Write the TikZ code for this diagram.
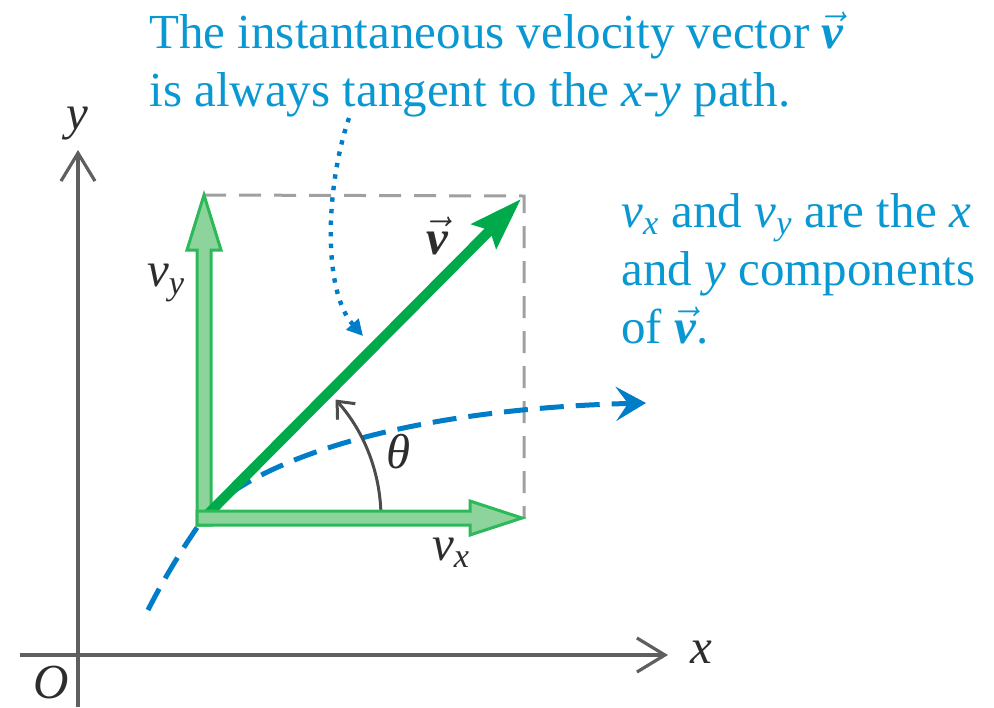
\documentclass[tikz,border=0pt]{standalone}
\usepackage{amsmath}
\usepackage{fontspec}
\setmainfont{Liberation Serif}
\usetikzlibrary{arrows.meta,calc}
\definecolor{txtblue}{RGB}{10,152,210}
\definecolor{pathblue}{RGB}{0,125,200}
\definecolor{vgreen}{RGB}{0,170,75}
\definecolor{compedge}{RGB}{45,185,90}
\definecolor{compfill}{RGB}{140,212,155}
\definecolor{axisgray}{RGB}{95,95,95}
\definecolor{dashgray}{RGB}{160,160,160}
\definecolor{labelgray}{RGB}{45,45,45}
\newcommand{\vv}{\ensuremath{\vec{\text{\bfseries\itshape v}}}}
\newcommand{\iv}[1]{\text{\itshape #1}}
\tikzset{
  bigfont/.style={font=\fontsize{24.5}{29}\selectfont},
  txt/.style={bigfont, text=txtblue, inner sep=0pt, align=left},
  lab/.style={bigfont, text=labelgray, inner sep=0pt},
  axis/.style={draw=axisgray, line width=2pt, -{Straight Barb[length=14pt,width=17pt,line width=1.6pt]}},
  rectdash/.style={draw=dashgray, line width=1.5pt, dash pattern=on 11pt off 6.5pt},
  bluepath/.style={draw=pathblue, line width=2.5pt, dash pattern=on 12pt off 6pt, -{Stealth[length=15pt,width=17pt,inset=6pt]}},
  dotpath/.style={draw=pathblue, line width=2.2pt, dash pattern=on 2.2pt off 3.6pt, -{Triangle[length=8pt,width=8pt]}},
  vvec/.style={draw=vgreen, line width=5pt, -{Stealth[length=26pt,width=17pt,inset=4pt]}},
  comp/.style={draw=compedge, fill=compfill, line width=1.5pt, line join=miter},
  thetaarc/.style={draw=labelgray!85, line width=1.5pt, -{Straight Barb[length=7pt,width=12pt]}}
}
\begin{document}
\begin{tikzpicture}[x=0.5pt, y=-0.5pt]
\useasboundingbox (0,0) rectangle (994,707);
% named points
\coordinate (O) at (204,518);
\coordinate (VY) at (204,195);
\coordinate (VX) at (522,518);
\coordinate (V) at (521,199);
\coordinate (C) at (524,196);
\coordinate (yb) at (78,707);
\coordinate (yt) at (78,150);
\coordinate (xl) at (20,655);
\coordinate (xr) at (668,655);
\coordinate (bstart) at (148,610);
\coordinate (btip) at (646,403);
\coordinate (dstart) at (349,118);
\coordinate (dtip) at (363,336);
% axes
\draw[axis] (yb) -- (yt);
\draw[axis] (xl) -- (xr);
\node[lab] (ylab) at (77,124) {\iv{y}};
\node[lab] (xlab) at (701,652) {\iv{x}};
\node[lab] (olab) at (51,683) {\iv{O}};
% dashed rectangle
\draw[rectdash] (VY) -- (C) -- (C|-VX);
% path
\draw[bluepath] (bstart) .. controls (162,582) and (186,542) .. (O) .. controls (240,470) and (380,410) .. (btip);
% theta arc
\draw[thetaarc] ($(O)+(177,0)$) arc[start angle=0, end angle=-42, radius=177];
% vy component
\draw[comp] ($(O)+(-7,7)$) -- ($(VY)+(-7,55)$) -- ($(VY)+(-17,55)$) -- (VY) -- ($(VY)+(17,55)$) -- ($(VY)+(7,55)$) -- ($(O)+(7,7)$) -- cycle;
% velocity vector
\draw[vvec] (O) -- (V);
% vx component
\draw[comp] ($(O)+(-7,-7)$) -- ($(VX)+(-52,-7)$) -- ($(VX)+(-52,-17)$) -- (VX) -- ($(VX)+(-52,17)$) -- ($(VX)+(-52,7)$) -- ($(O)+(-7,7)$) -- cycle;
% dotted pointer
\draw[dotpath] (dstart) .. controls (326,185) and (322,290) .. (dtip);
% labels
\node[lab] (vlab) at (437,236) {\vv};
\node[lab] (vylab) at (166,283) {$\iv{v}_{\iv{y}}$};
\node[lab] (thlab) at (399,452) {\iv{θ}};
\node[lab] (vxlab) at (451,553) {$\iv{v}_{\iv{x}}$};
% texts
\node[txt, anchor=north west] (toptext) at (149,12) {The instantaneous velocity vector \vv\\is always tangent to the \iv{x}-\iv{y} path.};
\node[txt, anchor=north west] (righttext) at (621,193) {$\iv{v}_{\iv{x}}$ and $\iv{v}_{\iv{y}}$ are the \iv{x}\\and \iv{y} components\\of \vv.};
\end{tikzpicture}
\end{document}
